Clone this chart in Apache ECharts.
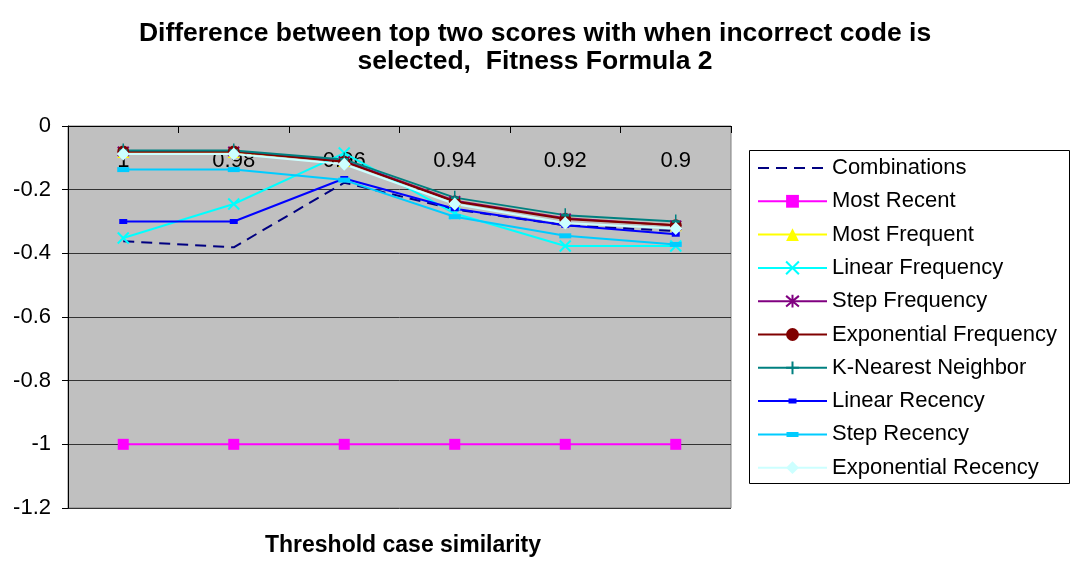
<!DOCTYPE html>
<html>
<head>
<meta charset="utf-8">
<script src="https://cdn.jsdelivr.net/npm/echarts@6/dist/echarts.min.js"></script>
<style>
html, body { margin: 0; padding: 0; background: #ffffff; }
#chart { width: 1070px; height: 561px; }
</style>
</head>
<body>
<div id="chart"></div>
<script>
// Threshold case similarity values (category axis)
const categories = ['1', '0.98', '0.96', '0.94', '0.92', '0.9'];
const yTicks = { min: -1.2, max: 0, interval: 0.2 };

// Score differences per method
const combinations         = [-0.362, -0.381, -0.178, -0.262, -0.312, -0.330];
const mostRecent           = [-1, -1, -1, -1, -1, -1];
const mostFrequent         = [-0.082, -0.082, -0.110, -0.235, -0.290, -0.312];
const linearFrequency      = [-0.352, -0.245, -0.085, -0.275, -0.377, -0.377];
const stepFrequency        = [-0.080, -0.080, -0.110, -0.235, -0.290, -0.312];
const exponentialFrequency = [-0.080, -0.080, -0.112, -0.237, -0.292, -0.312];
const kNearestNeighbor     = [-0.077, -0.077, -0.105, -0.225, -0.280, -0.300];
const linearRecency        = [-0.300, -0.300, -0.165, -0.260, -0.312, -0.340];
const stepRecency          = [-0.137, -0.137, -0.170, -0.285, -0.345, -0.372];
const exponentialRecency   = [-0.088, -0.088, -0.120, -0.245, -0.305, -0.322];

const FONT = '"Liberation Sans", Arial, sans-serif';

// Marker outlines (stroked)
const X_PATH = 'path://M0,0L10,10M10,0L0,10';
const STAR_PATH = 'path://M0,0L10,10M10,0L0,10M5,-1L5,11';
const PLUS_PATH = 'path://M5,0L5,12M2,6L8,6';

// Legend keys: 69x16 box, a 2px line with a flat marker in the middle.
// The hairline corner segments keep the full box as the path's extent.
const LEG_W = 69, LEG_H = 16;
function flatKey(markW, markH) {
  const x0 = (LEG_W - markW) / 2, y0 = (LEG_H - markH) / 2;
  return 'path://M0,0L0,0.01Z M' + LEG_W + ',' + LEG_H + 'L' + LEG_W + ',' + (LEG_H - 0.01) + 'Z' +
    ' M0,7L' + LEG_W + ',7L' + LEG_W + ',9L0,9Z' +
    ' M' + x0 + ',' + y0 + 'L' + (x0 + markW) + ',' + y0 + 'L' + (x0 + markW) + ',' + (y0 + markH) +
    'L' + x0 + ',' + (y0 + markH) + 'Z';
}

function lineSeries(name, data, color, extra) {
  return Object.assign({
    name: name,
    type: 'line',
    data: data,
    color: color,
    lineStyle: { color: color, width: 2 },
    itemStyle: { color: color, borderColor: color, borderWidth: 0 },
    symbol: 'none',
    showSymbol: true,
    animation: false,
    emphasis: { disabled: true }
  }, extra || {});
}

const series = [
  lineSeries('Combinations', combinations, '#000080', {
    lineStyle: { color: '#000080', width: 2, type: [11, 7] }
  }),
  lineSeries('Most Recent', mostRecent, '#FF00FF', { symbol: 'rect', symbolSize: 11 }),
  lineSeries('Most Frequent', mostFrequent, '#FFFF00', { symbol: 'triangle', symbolSize: 12 }),
  lineSeries('Linear Frequency', linearFrequency, '#00FFFF', {
    symbol: X_PATH, symbolSize: 11,
    itemStyle: { color: '#00FFFF', borderColor: '#00FFFF', borderWidth: 2 }
  }),
  lineSeries('Step Frequency', stepFrequency, '#800080', {
    symbol: STAR_PATH, symbolSize: 11,
    itemStyle: { color: '#800080', borderColor: '#800080', borderWidth: 2 }
  }),
  lineSeries('Exponential Frequency', exponentialFrequency, '#800000', { symbol: 'circle', symbolSize: 12 }),
  lineSeries('K-Nearest Neighbor', kNearestNeighbor, '#008080', {
    symbol: PLUS_PATH, symbolSize: [8, 14],
    itemStyle: { color: '#008080', borderColor: '#008080', borderWidth: 2 }
  }),
  lineSeries('Linear Recency', linearRecency, '#0000FF', { symbol: 'rect', symbolSize: [8, 5] }),
  lineSeries('Step Recency', stepRecency, '#00CCFF', { symbol: 'rect', symbolSize: [12, 5] }),
  lineSeries('Exponential Recency', exponentialRecency, '#CCFFFF', { symbol: 'diamond', symbolSize: 13 })
];

const legendData = series.map(s => {
  if (s.name === 'Combinations') return { name: s.name, itemStyle: { opacity: 0 } };
  if (s.name === 'Linear Recency') return { name: s.name, icon: flatKey(8, 5) };
  if (s.name === 'Step Recency') return { name: s.name, icon: flatKey(12, 5) };
  return { name: s.name };
});

const chart = echarts.init(document.getElementById('chart'), null, { renderer: 'canvas' });
chart.setOption({
  backgroundColor: '#ffffff',
  animation: false,
  title: {
    text: 'Difference between top two scores with when incorrect code is\nselected,  Fitness Formula 2',
    left: 'center',
    top: 15,
    textStyle: { fontFamily: FONT, fontWeight: 'bold', fontSize: 26.5, lineHeight: 28, color: '#000' }
  },
  grid: {
    left: 68, right: 339, top: 126, bottom: 53,
    show: true, backgroundColor: '#C0C0C0', borderColor: '#808080', borderWidth: 1
  },
  graphic: [
    {
      type: 'rect',
      left: 749, top: 150,
      shape: { width: 320, height: 333 },
      style: { fill: '#ffffff', stroke: '#000000', lineWidth: 1 },
      z: 0
    },
    {
      // category axis title, placed under the plot
      type: 'text',
      x: 403, y: 546,
      style: {
        text: 'Threshold case similarity',
        font: 'bold 23px ' + FONT,
        fill: '#000',
        align: 'center',
        verticalAlign: 'middle'
      },
      z: 5
    }
  ],
  legend: {
    orient: 'vertical',
    left: 757, top: 157,
    padding: 0,
    itemGap: 11.3,
    itemWidth: LEG_W,
    itemHeight: LEG_H,
    z: 5,
    selectedMode: false,
    textStyle: { fontFamily: FONT, fontSize: 22, lineHeight: 20, color: '#000', padding: [0, 0, 0, 0] },
    data: legendData
  },
  xAxis: {
    type: 'category',
    data: categories,
    position: 'top',
    boundaryGap: true,
    axisLine: { show: true, onZero: false, lineStyle: { color: '#000', width: 1 } },
    axisTick: { show: true, inside: true, length: 7, alignWithLabel: false, lineStyle: { color: '#000' } },
    axisLabel: { inside: true, margin: 24, fontFamily: FONT, fontSize: 22, color: '#000' },
    splitLine: { show: false }
  },
  yAxis: {
    type: 'value',
    min: yTicks.min, max: yTicks.max, interval: yTicks.interval,
    axisLine: { show: true, lineStyle: { color: '#000', width: 1 } },
    axisTick: { show: true, inside: false, length: 6, lineStyle: { color: '#000' } },
    axisLabel: {
      margin: 17, fontFamily: FONT, fontSize: 22, color: '#000',
      formatter: v => String(Math.round(v * 10) / 10)
    },
    splitLine: { show: true, lineStyle: { color: '#333333', width: 1 } }
  },
  series: series
});
</script>
</body>
</html>
